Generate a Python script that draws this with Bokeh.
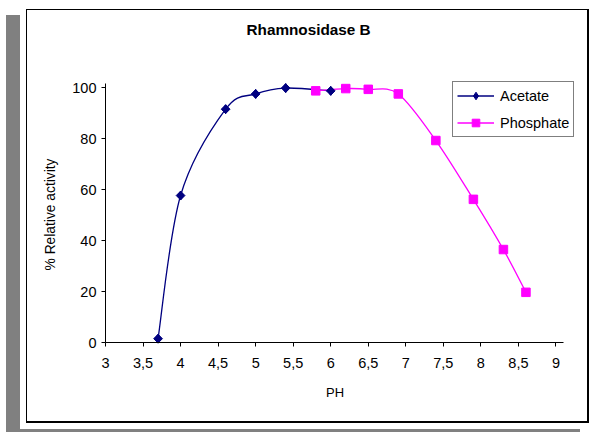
import numpy as np
from bokeh.plotting import figure
from bokeh.models import Legend, LegendItem, FixedTicker, Range1d, Label
from bokeh.embed import file_html
from bokeh.resources import INLINE

# ---- data ----
title_text = "Rhamnosidase B"
x_label = "PH"
y_label = "% Relative activity"
x_ticks = [3.0, 3.5, 4.0, 4.5, 5.0, 5.5, 6.0, 6.5, 7.0, 7.5, 8.0, 8.5, 9.0]
x_tick_labels = ["3", "3,5", "4", "4,5", "5", "5,5", "6", "6,5", "7", "7,5", "8", "8,5", "9"]
y_ticks = [0, 20, 40, 60, 80, 100]

ph_acetate = [3.7, 4.0, 4.6, 5.0, 5.4, 6.0]
act_acetate = [1.5, 57.7, 91.6, 97.6, 99.9, 98.8]

ph_phosphate = [5.8, 6.2, 6.5, 6.9, 7.4, 7.9, 8.3, 8.6]
act_phosphate = [98.8, 99.7, 99.4, 97.6, 79.3, 56.2, 36.5, 19.7]

NAVY = "#000080"
MAGENTA = "#FF00FF"
FONT = "Liberation Sans"


def smooth_segments(xs, ys):
    """Bezier control points (Excel-like smoothing) for a line through the points."""
    x = np.asarray(xs, float)
    y = np.asarray(ys, float)
    n = len(x)
    xp = np.concatenate([[x[0]], x, [x[-1]]])
    yp = np.concatenate([[y[0]], y, [y[-1]]])
    return dict(
        x0=x[:-1], y0=y[:-1], x1=x[1:], y1=y[1:],
        cx0=x[:-1] + (xp[2:n + 1] - xp[0:n - 1]) / 6.0,
        cy0=y[:-1] + (yp[2:n + 1] - yp[0:n - 1]) / 6.0,
        cx1=x[1:] - (xp[3:n + 2] - xp[1:n]) / 6.0,
        cy1=y[1:] - (yp[3:n + 2] - yp[1:n]) / 6.0,
    )


# ---- layout (pixels) ----
W, H = 590, 432
AX_X, AX_Y = 105, 342        # pixel position of x=3 (y axis) and y=0 (x axis)
PX_PER_X = 75.08             # px per pH unit
PX_PER_Y = 2.547             # px per % unit


def dx(px):  # canvas px -> data x
    return 3 + (px - AX_X) / PX_PER_X


def dy(py):  # canvas px (from top) -> data y
    return (AX_Y - py) / PX_PER_Y


p = figure(width=W, height=H, output_backend="svg", toolbar_location=None,
           x_range=Range1d(dx(0), dx(W)), y_range=Range1d(dy(H), dy(0)),
           min_border=0, min_border_left=0, min_border_right=0,
           min_border_top=0, min_border_bottom=0)

p.title.text = ""
p.title.visible = False
p.background_fill_alpha = 0
p.border_fill_alpha = 0
p.outline_line_color = None
p.grid.visible = False

# chart-area frame and grey shadow (page decoration)
rects = [  # (left, top, width, height, colour)
    (6, 15, 14, 417, "#808080"),
    (6, 429, 574, 3, "#808080"),
    (26, 9, 562, 1, "#000000"),
    (26, 9, 1, 414, "#000000"),
    (26, 421, 563, 2, "#000000"),
    (587, 9, 2, 414, "#000000"),
]
p.styles = {
    "background-color": "white",
    "background-image": ", ".join(f"linear-gradient({c}, {c})" for *_, c in rects),
    "background-position": ", ".join(f"{l}px {t}px" for l, t, *_ in rects),
    "background-size": ", ".join(f"{w}px {h}px" for _, _, w, h, _ in rects),
    "background-repeat": "no-repeat",
}

# axes (placed at x=3 and y=0)
for ax in (p.xaxis[0], p.yaxis[0]):
    ax.axis_line_color = "black"
    ax.axis_line_width = 1
    ax.major_tick_line_color = "black"
    ax.major_tick_in = 0
    ax.major_tick_out = 4
    ax.minor_tick_line_color = None
    ax.major_label_text_font = FONT
    ax.major_label_text_font_size = "14.5px"
    ax.major_label_text_color = "black"

p.xaxis.fixed_location = 0
p.xaxis.ticker = FixedTicker(ticks=x_ticks)
p.xaxis.major_label_overrides = {t: l for t, l in zip(x_ticks, x_tick_labels)}
p.xaxis.bounds = (3, 9.1)
p.xaxis.major_label_standoff = 11

p.yaxis.fixed_location = 3
p.yaxis.ticker = FixedTicker(ticks=y_ticks)
p.yaxis.bounds = (0, 101.8)
p.yaxis.major_label_standoff = 5

# title and axis titles
p.add_layout(Label(x=dx(246), y=dy(29), text=title_text, text_font=FONT,
                   text_font_size="15.3px", text_font_style="bold", text_color="black",
                   text_align="left", text_baseline="alphabetic"))
p.add_layout(Label(x=dx(334.5), y=dy(391.5), text=x_label, text_font=FONT,
                   text_font_size="13px", text_color="black",
                   text_align="center", text_baseline="alphabetic"))
p.add_layout(Label(x=dx(49.5), y=dy(214), text=y_label, text_font=FONT,
                   text_font_size="13.8px", text_color="black", angle=np.pi / 2,
                   text_align="center", text_baseline="alphabetic"))

# series
sa = smooth_segments(ph_acetate, act_acetate)
sp = smooth_segments(ph_phosphate, act_phosphate)
ln_a = p.bezier(source=sa, x0="x0", y0="y0", x1="x1", y1="y1", cx0="cx0", cy0="cy0",
                cx1="cx1", cy1="cy1", line_color=NAVY, line_width=1.3)
ln_p = p.bezier(source=sp, x0="x0", y0="y0", x1="x1", y1="y1", cx0="cx0", cy0="cy0",
                cx1="cx1", cy1="cy1", line_color=MAGENTA, line_width=1.3)

sc_a = p.scatter(ph_acetate, act_acetate, marker="square", angle=np.pi / 4, size=6.2,
                 fill_color=NAVY, line_color=NAVY)
# diamond version of the same points (sits inside the rotated squares; used by the legend)
sc_a_leg = p.scatter(ph_acetate, act_acetate, marker="diamond", size=9,
                     fill_color=NAVY, line_color=NAVY)
sc_p = p.scatter(ph_phosphate, act_phosphate, marker="square", size=8.5,
                 fill_color=MAGENTA, line_color=MAGENTA)

legend = Legend(items=[LegendItem(label="Acetate", renderers=[ln_a, sc_a_leg]),
                       LegendItem(label="Phosphate", renderers=[ln_p, sc_p])],
                location=(452, H - 137))
legend.border_line_color = "black"
legend.border_line_width = 1
legend.background_fill_color = "white"
legend.background_fill_alpha = 1
legend.label_text_font = FONT
legend.label_text_font_size = "14.5px"
legend.label_text_color = "black"
legend.glyph_width = 37
legend.glyph_height = 19
legend.label_height = 19
legend.label_standoff = 6
legend.padding = 4
legend.spacing = 8
legend.margin = 0
p.add_layout(legend, "center")

open("out.html", "w").write(file_html(p, INLINE))
